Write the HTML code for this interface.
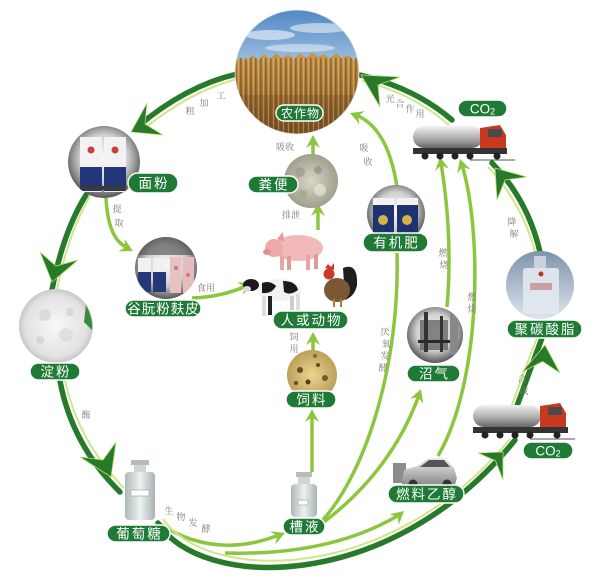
<!DOCTYPE html>
<html><head><meta charset="utf-8"><style>
html,body{margin:0;padding:0;background:#fff;}
svg{display:block;}
.p{fill:#1f7a36;stroke:#fff;stroke-width:1.4}
.pt{fill:#fff;font-family:"Liberation Sans","Noto Sans CJK SC",sans-serif;font-size:13.5px;text-anchor:middle;letter-spacing:2px}
.s{fill:#7a7a7a;font-family:"Liberation Serif","Noto Serif CJK SC",serif;font-size:9px;text-anchor:middle}
.d{fill:none;stroke:#267a2a;stroke-width:5.5;stroke-linecap:round}
.dl{fill:none;stroke:#cfe68a;stroke-width:2}
.l{fill:none;stroke:#8cc63e;stroke-width:3.5}
.lh{fill:#8cc63e}
.dh{fill:#267a2a;stroke:#b9dc72;stroke-width:0.8}
</style></head><body>
<svg width="600" height="586" viewBox="0 0 600 586" xmlns="http://www.w3.org/2000/svg">
<defs>
<linearGradient id="sky" x1="0" y1="0" x2="0" y2="1"><stop offset="0" stop-color="#4f86c4"/><stop offset="1" stop-color="#b3cfe8"/></linearGradient>
<linearGradient id="wheat" x1="0" y1="0" x2="0" y2="1"><stop offset="0" stop-color="#c99a4e"/><stop offset="0.5" stop-color="#a8773a"/><stop offset="1" stop-color="#7e5628"/></linearGradient>
<pattern id="stalk" width="5" height="12" patternUnits="userSpaceOnUse"><rect x="0" y="0" width="1.6" height="12" fill="#6a4520" opacity="0.55"/><rect x="3" y="0" width="1" height="12" fill="#e2b866" opacity="0.6"/></pattern>
<radialGradient id="gr" cx="0.5" cy="0.45" r="0.55"><stop offset="0" stop-color="#fafafa"/><stop offset="0.6" stop-color="#cfcfcf"/><stop offset="1" stop-color="#575757"/></radialGradient>
<radialGradient id="wh" cx="0.5" cy="0.5" r="0.55"><stop offset="0" stop-color="#f8f8f8"/><stop offset="0.75" stop-color="#e2e2e2"/><stop offset="1" stop-color="#b8b8b8"/></radialGradient>
<radialGradient id="dung" cx="0.5" cy="0.5" r="0.55"><stop offset="0" stop-color="#d8d6c8"/><stop offset="1" stop-color="#9a9a88"/></radialGradient>
<radialGradient id="feed" cx="0.5" cy="0.5" r="0.55"><stop offset="0" stop-color="#e8d690"/><stop offset="1" stop-color="#b89a55"/></radialGradient>
<linearGradient id="pc" x1="0" y1="0" x2="0" y2="1"><stop offset="0" stop-color="#7d93ad"/><stop offset="1" stop-color="#dde5ec"/></linearGradient>
<linearGradient id="tank" x1="0" y1="0" x2="0" y2="1"><stop offset="0" stop-color="#f2f2f2"/><stop offset="0.6" stop-color="#a8a8a8"/><stop offset="1" stop-color="#666"/></linearGradient>
<linearGradient id="glass" x1="0" y1="0" x2="1" y2="0"><stop offset="0" stop-color="#aeb8b8"/><stop offset="0.5" stop-color="#eef2f2"/><stop offset="1" stop-color="#a7b2b2"/></linearGradient>
<linearGradient id="car" x1="0" y1="0" x2="0" y2="1"><stop offset="0" stop-color="#eeeeee"/><stop offset="1" stop-color="#8a8a8a"/></linearGradient>
<clipPath id="c1"><circle cx="297" cy="72" r="62"/></clipPath>
<clipPath id="c2"><circle cx="104" cy="162" r="36"/></clipPath>
<clipPath id="c3"><circle cx="166" cy="268" r="31"/></clipPath>
<clipPath id="c4"><circle cx="396" cy="214" r="29"/></clipPath>
<clipPath id="c5"><circle cx="540" cy="285" r="34"/></clipPath>
<clipPath id="c6"><circle cx="435" cy="335" r="28"/></clipPath>
</defs>
<rect width="600" height="586" fill="#fff"/>

<!-- light green arrows -->
<path class="l" d="M106,198 Q108,238 126,247"/>
<polygon class="lh" points="133,251 118.3,251.4 125.4,247.2 124.5,239"/>
<path class="l" d="M192,298 Q222,297 246,286"/>
<polygon class="lh" points="252,283 243.2,294.8 244.3,286.6 237.2,282.2"/>
<path class="l" d="M313,377 L313,338"/>
<polygon class="lh" points="313,332 306,345 313,340.5 320,345"/>
<path class="l" d="M312,472 L312,415"/>
<polygon class="lh" points="312,409 305,422 312,417.5 319,422"/>
<path class="l" d="M318,230 L318,209"/>
<polygon class="lh" points="318,203 311,216 318,211.5 325,216"/>
<path class="l" d="M313,156 L313,141"/>
<polygon class="lh" points="313,135 306,148 313,143.5 320,148"/>
<path class="l" d="M397,187 Q388,128 356,115"/>
<polygon class="lh" points="350,113 364.7,111.3 357.9,116.1 359.5,124.3"/>
<path class="l" d="M322,521 C368,470 400,360 397,253"/>
<path class="l" d="M324,522 Q392,470 419,395"/>
<polygon class="lh" points="421,389 423.2,403.6 418.1,397.2 410,398.8"/>
<path class="l" d="M447,307 C452,250 447,200 441,163"/>
<polygon class="lh" points="440,157 449,168.7 441.4,165.4 435.2,170.9"/>
<path class="l" d="M438,456 C482,380 482,230 462,165"/>
<polygon class="lh" points="460,159 470.5,169.3 462.5,167.1 457.1,173.5"/>
<path class="l" d="M225,553 Q330,556 399,515"/>
<polygon class="lh" points="404,511 398.8,524.8 397.6,516.6 389.6,514.2"/>
<path class="l" d="M160,524 Q215,560 279,535"/>
<polygon class="lh" points="285,533 275.4,544.2 277.1,536.1 270.4,531.2"/>

<!-- dark loop arrows -->
<path class="dl" d="M237,79 Q188,92 140,132"/>
<path class="d" d="M237,74 Q185,86 136,128"/>
<polygon class="dh" points="131,132 147,103 145,124 163,135"/>

<path class="dl" d="M90,196 Q68,234 57,290"/>
<path class="d" d="M86,195 Q63,232 52,290"/>
<polygon class="dh" points="52,282 40,252 56,266 78,260"/>

<path class="dl" d="M65,380 Q78,441 124,488"/>
<path class="d" d="M60,381 Q72,445 120,492"/>
<polygon class="dh" points="111,477 80,457 103,460 116,442"/>

<path class="dl" d="M163,519 C206,582 388,587 510,439"/>
<path class="d" d="M158,523 C200,590 390,595 515,440"/>
<polygon class="dh" points="503,452 478,453 495.5,460.7 503,480"/>

<path class="dl" d="M512,405 Q525,368 537,338"/>
<path class="d" d="M517,406 Q530,370 542,338"/>
<polygon class="dh" points="545,345 522,372 542.6,361.5 560,373"/>

<path class="dl" d="M535,252 Q522,203 488,167"/>
<path class="d" d="M540,252 Q528,200 492,163"/>
<polygon class="dh" points="495,168 527,177 505,180 497,200"/>

<path class="dl" d="M449,125 Q412,93 362,81"/>
<path class="d" d="M452,120 Q415,88 360,75"/>
<polygon class="dh" points="361,75 400,77 378,85 380,107"/>

<!-- 农作物 image -->
<g clip-path="url(#c1)">
<rect x="234" y="8" width="128" height="70" fill="url(#sky)"/>
<ellipse cx="270" cy="35" rx="25" ry="5" fill="#fff" opacity="0.55"/>
<ellipse cx="320" cy="28" rx="30" ry="5" fill="#fff" opacity="0.5"/>
<ellipse cx="300" cy="48" rx="35" ry="4" fill="#fff" opacity="0.45"/>
<path d="M234,62 L240,57 246,61 252,55 258,60 264,54 270,59 276,53 282,58 288,54 294,59 300,53 306,58 312,52 318,57 324,54 330,59 336,53 342,58 348,55 354,60 362,56 L362,136 L234,136 Z" fill="url(#wheat)"/>
<rect x="234" y="58" width="128" height="78" fill="url(#stalk)"/>
<rect x="234" y="95" width="128" height="41" fill="#5a3a18" opacity="0.2"/>
</g>
<circle cx="297" cy="72" r="62" fill="none" stroke="#e8e8e8" stroke-width="0.8"/>

<!-- 面粉 -->
<circle cx="104" cy="162" r="36" fill="url(#gr)"/>
<g clip-path="url(#c2)">
<rect x="80" y="137" width="22" height="55" fill="#f2f2f2"/>
<rect x="80" y="167" width="22" height="24" fill="#22377a"/>
<circle cx="91" cy="150" r="3.5" fill="#c9403a"/>
<rect x="104" y="137" width="22" height="55" fill="#f2f2f2"/>
<rect x="104" y="167" width="22" height="24" fill="#22377a"/>
<circle cx="115" cy="150" r="3.5" fill="#c9403a"/>
<rect x="80" y="186" width="46" height="4" fill="#3a3a3a"/>
</g>

<!-- 谷朊粉麸皮 -->
<circle cx="166" cy="268" r="31" fill="url(#gr)"/>
<g clip-path="url(#c3)">
<rect x="135" y="237" width="62" height="18" fill="#4a4a4a" opacity="0.6"/>
<rect x="138" y="258" width="13" height="34" fill="#f0f0f0"/>
<rect x="138" y="272" width="13" height="20" fill="#25397a"/>
<rect x="153" y="258" width="13" height="34" fill="#f0f0f0"/>
<rect x="153" y="272" width="13" height="20" fill="#25397a"/>
<rect x="170" y="257" width="11" height="36" fill="#e8c2c2"/>
<rect x="183" y="257" width="11" height="36" fill="#e6bcbc"/>
<circle cx="176" cy="268" r="2" fill="#c77"/><circle cx="188" cy="275" r="2" fill="#c77"/>
</g>

<!-- 淀粉 -->
<circle cx="56" cy="326" r="37" fill="url(#wh)"/>
<circle cx="45" cy="315" r="6" fill="#d4d4d4" opacity="0.7"/>
<circle cx="66" cy="335" r="7" fill="#d8d8d8" opacity="0.7"/>
<circle cx="40" cy="340" r="4" fill="#cfcfcf" opacity="0.7"/>
<circle cx="70" cy="312" r="4" fill="#d0d0d0" opacity="0.7"/>
<path d="M86,305 Q93,318 92,330 L84,322 Z" fill="#3a8a3c"/>

<!-- 粪便 -->
<circle cx="311" cy="181" r="27" fill="url(#dung)"/>
<circle cx="300" cy="172" r="5" fill="#8e8e7a" opacity="0.5"/>
<circle cx="320" cy="190" r="6" fill="#eeeedd" opacity="0.6"/>
<circle cx="318" cy="170" r="4" fill="#7f7f6c" opacity="0.5"/>
<circle cx="303" cy="194" r="4" fill="#a0a08a" opacity="0.6"/>

<!-- 有机肥 -->
<circle cx="396" cy="214" r="29" fill="url(#gr)"/>
<g clip-path="url(#c4)">
<rect x="373" y="198" width="21" height="36" fill="#1e3170"/>
<rect x="373" y="198" width="21" height="7" fill="#f2f2f2"/>
<rect x="397" y="198" width="21" height="36" fill="#1e3170"/>
<rect x="397" y="198" width="21" height="7" fill="#f2f2f2"/>
<circle cx="383" cy="220" r="5" fill="#d6b34a"/>
<circle cx="407" cy="220" r="5" fill="#d6b34a"/>
</g>

<!-- 饲料 -->
<circle cx="312" cy="375" r="25" fill="url(#feed)"/>
<circle cx="300" cy="370" r="3" fill="#6b4a20"/><circle cx="318" cy="365" r="2" fill="#6b4a20"/>
<circle cx="308" cy="382" r="2.5" fill="#5a3a18"/><circle cx="325" cy="378" r="3" fill="#7a5524"/>
<circle cx="296" cy="383" r="2" fill="#6b4a20"/><circle cx="315" cy="356" r="2" fill="#8a6a30"/>

<!-- 沼气 -->
<circle cx="435" cy="335" r="28" fill="url(#gr)"/>
<g clip-path="url(#c6)">
<rect x="420" y="320" width="28" height="30" fill="#555" opacity="0.7"/>
<rect x="424" y="312" width="4" height="40" fill="#333"/>
<rect x="440" y="316" width="3" height="36" fill="#333"/>
<rect x="418" y="340" width="34" height="3" fill="#2a2a2a"/>
<rect x="450" y="310" width="8" height="45" fill="#888"/>
</g>

<!-- 聚碳酸脂 -->
<circle cx="540" cy="285" r="34" fill="url(#pc)"/>
<g clip-path="url(#c5)">
<rect x="534" y="256" width="12" height="12" fill="#c9d2dc"/>
<rect x="523" y="268" width="36" height="46" rx="3" fill="#e3e9ef" opacity="0.9"/>
<rect x="530" y="283" width="22" height="7" fill="#c7a0a0"/>
<circle cx="541" cy="274" r="2.5" fill="#c03030"/>
</g>

<!-- bottles -->
<rect x="131" y="460" width="18" height="5" fill="#b2bcbc"/>
<rect x="134" y="465" width="12" height="8" fill="#cfd6d6"/>
<rect x="125" y="472" width="30" height="48" rx="4" fill="url(#glass)"/>
<rect x="131" y="490" width="18" height="6" fill="#fff" stroke="#999" stroke-width="0.6"/>
<rect x="296" y="472" width="16" height="5" fill="#b2bcbc"/>
<rect x="298" y="477" width="12" height="7" fill="#cfd6d6"/>
<rect x="291" y="484" width="26" height="33" rx="4" fill="url(#glass)"/>
<rect x="298" y="500" width="10" height="5" fill="#fff" stroke="#999" stroke-width="0.6"/>

<!-- upper truck -->
<rect x="413" y="126" width="70" height="22" rx="11" fill="url(#tank)"/>
<path d="M480,128 L500,125 L506,135 L506,153 L480,153 Z" fill="#c9391f"/>
<rect x="488" y="129" width="14" height="8" fill="#4a4a4a"/>
<rect x="413" y="148" width="94" height="6" fill="#333"/>
<g fill="#222"><circle cx="425" cy="156" r="3.5"/><circle cx="440" cy="156" r="3.5"/><circle cx="455" cy="156" r="3.5"/><circle cx="470" cy="156" r="3.5"/><circle cx="497" cy="156" r="3.5"/></g>
<line x1="470" y1="160" x2="515" y2="160" stroke="#555" stroke-width="1"/>

<!-- lower truck -->
<rect x="473" y="405" width="68" height="22" rx="11" fill="url(#tank)"/>
<path d="M540,406 L560,403 L566,413 L566,432 L540,432 Z" fill="#c9391f"/>
<rect x="548" y="407" width="14" height="8" fill="#4a4a4a"/>
<rect x="473" y="427" width="95" height="6" fill="#333"/>
<g fill="#222"><circle cx="485" cy="435" r="3.5"/><circle cx="500" cy="435" r="3.5"/><circle cx="515" cy="435" r="3.5"/><circle cx="530" cy="435" r="3.5"/><circle cx="557" cy="435" r="3.5"/></g>
<line x1="530" y1="439" x2="575" y2="439" stroke="#555" stroke-width="1"/>

<!-- car -->
<rect x="393" y="463" width="13" height="20" fill="#8c8c8c"/>
<path d="M402,480 L404,470 L418,466 L428,458 L445,458 L454,468 L457,478 L455,485 L402,485 Z" fill="url(#car)"/>
<path d="M420,467 L429,460 L444,460 L450,467 Z" fill="#555"/>
<circle cx="413" cy="484" r="4.5" fill="#333"/><circle cx="447" cy="484" r="4.5" fill="#333"/>

<!-- pig -->
<g>
<ellipse cx="298" cy="248" rx="25" ry="13" fill="#f1b9b7"/>
<ellipse cx="274" cy="248" rx="9" ry="9" fill="#efaaa8"/>
<ellipse cx="267" cy="252" rx="4" ry="3" fill="#e58f8e"/>
<path d="M277,239 L283,232 L284,242 Z" fill="#e59a98"/>
<rect x="280" y="255" width="4" height="15" fill="#e8a6a4"/>
<rect x="287" y="256" width="4" height="14" fill="#e09c9a"/>
<rect x="306" y="255" width="4" height="15" fill="#e8a6a4"/>
<rect x="314" y="254" width="4" height="15" fill="#e09c9a"/>
</g>
<!-- cow -->
<g>
<ellipse cx="279" cy="290" rx="22" ry="11" fill="#f2f2f2"/>
<path d="M262,283 Q270,280 276,286 Q272,294 262,293 Z" fill="#1a1a1a"/>
<path d="M283,281 Q296,281 298,290 Q290,296 284,292 Z" fill="#1a1a1a"/>
<ellipse cx="251" cy="285" rx="8" ry="6" fill="#1a1a1a"/>
<ellipse cx="247" cy="289" rx="4" ry="3" fill="#ddd"/>
<rect x="262" y="296" width="4" height="20" fill="#ddd"/>
<rect x="268" y="296" width="4" height="19" fill="#222"/>
<rect x="290" y="296" width="4" height="20" fill="#ccc"/>
<rect x="296" y="294" width="4" height="19" fill="#ddd"/>
</g>
<!-- rooster -->
<g>
<path d="M343,268 Q358,262 357,285 Q355,296 345,300 Z" fill="#1f1f1f"/>
<ellipse cx="337" cy="290" rx="13" ry="12" fill="#7a5836"/>
<circle cx="329" cy="274" r="5.5" fill="#c8392f"/>
<path d="M325,268 L328,264 L331,267 L334,263 L334,270 Z" fill="#d8322a"/>
<rect x="333" y="299" width="2" height="8" fill="#a08040"/>
<rect x="340" y="299" width="2" height="8" fill="#a08040"/>
</g>

<!-- pills -->
<rect class="p" x="276" y="105" width="47" height="16" rx="8"/>
<text class="pt" x="300.5" y="117.5" style="font-size:12px;letter-spacing:1px">农作物</text>
<rect class="p" x="128" y="173" width="50" height="20" rx="10"/>
<text class="pt" x="154" y="188">面粉</text>
<rect class="p" x="248" y="176" width="50" height="17" rx="8.5"/>
<text class="pt" x="274" y="189.5">粪便</text>
<rect class="p" x="363" y="233" width="65" height="19" rx="9.5"/>
<text class="pt" x="396.5" y="247.5">有机肥</text>
<rect class="p" x="125" y="300" width="76" height="17" rx="8.5"/>
<text class="pt" x="163.5" y="313.5" style="letter-spacing:1px">谷朊粉麸皮</text>
<rect class="p" x="273" y="311" width="75" height="18" rx="9"/>
<text class="pt" x="311.5" y="325">人或动物</text>
<rect class="p" x="30" y="363" width="50" height="17" rx="8.5"/>
<text class="pt" x="56" y="376.5">淀粉</text>
<rect class="p" x="507" y="320" width="75" height="18" rx="9"/>
<text class="pt" x="545.5" y="334">聚碳酸脂</text>
<rect class="p" x="407" y="365" width="53" height="17" rx="8.5"/>
<text class="pt" x="434.5" y="378.5">沼气</text>
<rect class="p" x="286" y="391" width="50" height="17" rx="8.5"/>
<text class="pt" x="312" y="404.5">饲料</text>
<rect class="p" x="458" y="100" width="49" height="17" rx="8.5"/>
<text class="pt" x="482.5" y="113.5" style="letter-spacing:0">CO<tspan font-size="9" dy="1">2</tspan></text>
<rect class="p" x="523" y="442" width="50" height="17" rx="8.5"/>
<text class="pt" x="548" y="455.5" style="letter-spacing:0">CO<tspan font-size="9" dy="1">2</tspan></text>
<rect class="p" x="388" y="485" width="76" height="18" rx="9"/>
<text class="pt" x="427" y="499">燃料乙醇</text>
<rect class="p" x="283" y="518" width="42" height="17" rx="8.5"/>
<text class="pt" x="305" y="531.5">槽液</text>
<rect class="p" x="107" y="525" width="63" height="17" rx="8.5"/>
<text class="pt" x="139.5" y="538.5">葡萄糖</text>

<!-- small labels -->
<g class="s">
<text x="190" y="114" class="s">粗</text><text x="204" y="106" class="s">加</text><text x="221" y="99" class="s">工</text>
<text x="117" y="212" class="s">提</text><text x="119" y="226" class="s">取</text>
<text x="206" y="291" class="s">食用</text>
<text x="86" y="418" class="s">酶</text>
<text x="169" y="514" class="s">生</text><text x="181" y="520" class="s">物</text><text x="193" y="526" class="s">发</text><text x="206" y="532" class="s">酵</text>
<text x="294" y="340" class="s">饲</text><text x="294" y="352" class="s">用</text>
<text x="291" y="218" class="s">排泄</text>
<text x="285" y="150" class="s">吸收</text>
<text x="364" y="151" class="s">吸</text><text x="368" y="165" class="s">收</text>
<text x="385" y="335" class="s">厌</text><text x="386" y="347" class="s">氧</text><text x="385" y="359" class="s">发</text><text x="383" y="371" class="s">酵</text>
<text x="443" y="256" class="s">燃</text><text x="444" y="268" class="s">烧</text>
<text x="472" y="300" class="s">燃</text><text x="472" y="312" class="s">烧</text>
<text x="390" y="102" class="s">光</text><text x="400" y="107" class="s">合</text><text x="410" y="112" class="s">作</text><text x="420" y="117" class="s">用</text>
<text x="512" y="225" class="s">降</text><text x="514" y="237" class="s">解</text>
<text x="522" y="382" class="s">合</text><text x="524" y="394" class="s">成</text>
</g>
</svg>
</body></html>
